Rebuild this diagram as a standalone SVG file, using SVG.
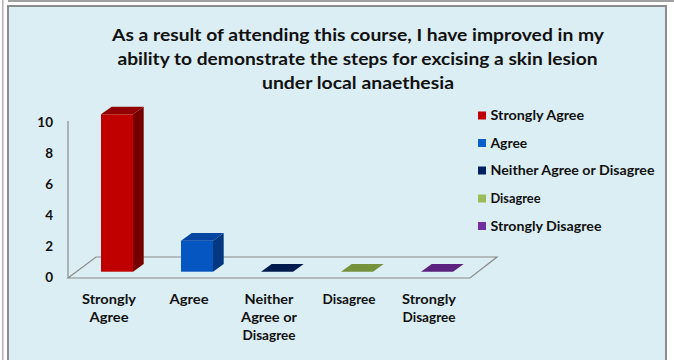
<svg xmlns="http://www.w3.org/2000/svg" width="674" height="360" viewBox="0 0 674 360">
<style>
text{font-family:Lato,"Open Sans","Liberation Sans",sans-serif;font-weight:bold;fill:#111;}
.t{font-size:17px;text-anchor:middle;}
.c{font-size:13px;text-anchor:middle;}
.a{font-size:13.5px;text-anchor:end;}
.l{font-size:12.5px;}
.ln{stroke:#8a8a8a;stroke-width:1.2;fill:none;}
</style>
<rect x="0" y="0" width="674" height="360" fill="#ffffff"/>
<rect x="8" y="0" width="666" height="2" fill="#a0a0a0"/>
<rect x="2" y="0" width="1.5" height="360" fill="#b0b0b0"/>
<rect x="8" y="6" width="658" height="360" fill="#DBEEF4" stroke="#8c8c8c" stroke-width="2"/>

<g id="title">
<text class="t" x="358" y="41" textLength="492" lengthAdjust="spacingAndGlyphs">As a result of attending this course, I have improved in my</text>
<text class="t" x="357.5" y="65" textLength="480" lengthAdjust="spacingAndGlyphs">ability to demonstrate the steps for excising a skin lesion</text>
<text class="t" x="358" y="89" textLength="192" lengthAdjust="spacingAndGlyphs">under local anaethesia</text>
</g>

<g id="axis">
<line class="ln" x1="68" y1="121" x2="68" y2="278"/>
<polygon class="ln" points="68,278 96,257 497,257 470,278"/>
<text class="a" x="53" y="127">10</text>
<text class="a" x="53" y="158">8</text>
<text class="a" x="53" y="189">6</text>
<text class="a" x="53" y="220">4</text>
<text class="a" x="53" y="251">2</text>
<text class="a" x="53" y="282">0</text>
</g>

<g id="bar-strongly-agree">
<rect x="101" y="114.3" width="32" height="157.4" fill="#C00000"/>
<polygon points="133,114.3 143.7,106.7 143.7,264 133,271.7" fill="#750000"/>
<polygon points="101,114.3 111.7,106.7 143.7,106.7 133,114.3" fill="#920000"/>
</g>
<g id="bar-agree">
<rect x="181" y="240.7" width="32" height="31" fill="#0656C2"/>
<polygon points="213,240.7 223.7,233 223.7,264 213,271.7" fill="#03377F"/>
<polygon points="181,240.7 191.7,233 223.7,233 213,240.7" fill="#0446A0"/>
</g>
<g id="bar-neither">
<polygon points="261,271.7 271.7,264 303.7,264 293,271.7" fill="#001B4E"/>
</g>
<g id="bar-disagree">
<polygon points="341,271.7 351.7,264 383.7,264 373,271.7" fill="#76923C"/>
</g>
<g id="bar-strongly-disagree">
<polygon points="421,271.7 431.7,264 463.7,264 453,271.7" fill="#5C2280"/>
</g>

<g id="categories">
<text class="c" x="109" y="304" textLength="54" lengthAdjust="spacingAndGlyphs">Strongly</text>
<text class="c" x="109" y="322" textLength="39" lengthAdjust="spacingAndGlyphs">Agree</text>
<text class="c" x="189" y="304" textLength="39" lengthAdjust="spacingAndGlyphs">Agree</text>
<text class="c" x="269" y="304" textLength="49" lengthAdjust="spacingAndGlyphs">Neither</text>
<text class="c" x="269" y="322" textLength="56" lengthAdjust="spacingAndGlyphs">Agree or</text>
<text class="c" x="269" y="340" textLength="53" lengthAdjust="spacingAndGlyphs">Disagree</text>
<text class="c" x="349" y="304" textLength="53" lengthAdjust="spacingAndGlyphs">Disagree</text>
<text class="c" x="429" y="304" textLength="54" lengthAdjust="spacingAndGlyphs">Strongly</text>
<text class="c" x="429" y="322" textLength="53" lengthAdjust="spacingAndGlyphs">Disagree</text>
</g>

<g id="legend">
<rect x="478" y="111.5" width="8" height="8" fill="#C00000"/>
<text class="l" x="490.5" y="120" textLength="93.7" lengthAdjust="spacingAndGlyphs">Strongly Agree</text>
<rect x="478" y="139" width="8" height="8" fill="#0860CA"/>
<text class="l" x="490.5" y="147.5" textLength="36.7" lengthAdjust="spacingAndGlyphs">Agree</text>
<rect x="478" y="166.5" width="8" height="8" fill="#002060"/>
<text class="l" x="490.5" y="175" textLength="164" lengthAdjust="spacingAndGlyphs">Neither Agree or Disagree</text>
<rect x="478" y="194.5" width="8" height="8" fill="#9BBB59"/>
<text class="l" x="490.5" y="203" textLength="50" lengthAdjust="spacingAndGlyphs">Disagree</text>
<rect x="478" y="222" width="8" height="8" fill="#7030A0"/>
<text class="l" x="490.5" y="230.5" textLength="111" lengthAdjust="spacingAndGlyphs">Strongly Disagree</text>
</g>
</svg>
